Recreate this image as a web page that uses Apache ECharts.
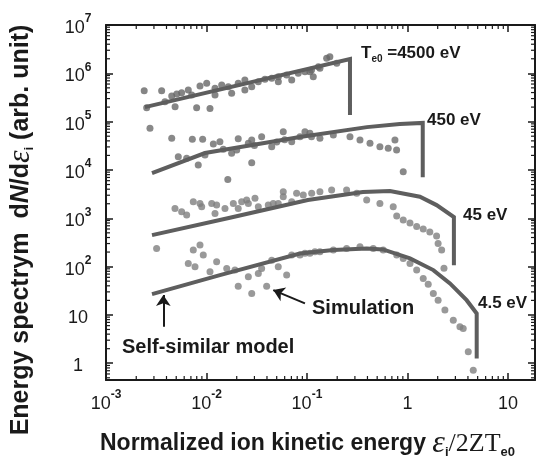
<!DOCTYPE html>
<html><head><meta charset="utf-8">
<script src="https://cdn.jsdelivr.net/npm/echarts@6/dist/echarts.min.js"></script>
<style>html,body{margin:0;padding:0;background:#fff}#c{width:539px;height:463px}</style>
</head><body><div id="c"></div>
<script>
const FONT = '"Liberation Sans", Arial, Helvetica, sans-serif';
const SERIF = '"Liberation Serif", "Times New Roman", serif';

// axis ranges
const xMin = 0.001, xMax = 18.6, yMin = 0.45, yMax = 1e7;

// simulation points [E/2ZTe0, dN/dE]
const sim4500 = [[0.0024,4.37e5],[0.00358,4.37e5],[0.00254,1.94e5],[0.00386,2.58e5],[0.00451,3.39e5],[0.00487,2.04e5],[0.00506,3.72e5],[0.00566,3.96e5],[0.00659,4.51e5],[0.00713,3.56e5],[0.00798,1.94e5],[0.00862,5.46e5],[0.01005,6.21e5],[0.01084,1.88e5],[0.01216,4.89e5],[0.01216,3.56e5],[0.01417,5.73e5],[0.0165,5.29e5],[0.0178,3.85e5],[0.0207,6.21e5],[0.0241,7.26e5],[0.0241,4.51e5],[0.0282,5.29e5],[0.0328,6.7e5],[0.0382,7.51e5],[0.0446,7.88e5],[0.0519,8.51e5],[0.0519,6.7e5],[0.0628,9.22e5],[0.0705,7.26e5],[0.0819,1.0e6],[0.0955,1.08e6],[0.107,1.08e6],[0.111,1.17e6],[0.1156,8.51e5],[0.13,1.37e6],[0.1346,1.27e6],[0.157,2.04e6],[0.169,2.21e6],[0.198,1.61e6]];
const sim450 = [[0.00274,7.26e4],[0.00451,4.51e4],[0.00524,1.87e4],[0.00635,1.74e4],[0.00723,4.3e4],[0.00828,1.26e4],[0.00916,4.3e4],[0.00966,2.03e4],[0.0117,3.44e4],[0.0136,3.84e4],[0.0147,2.67e4],[0.0163,6.38e3],[0.0178,2.21e4],[0.02,2.6e4],[0.0207,4.43e4],[0.0261,3.56e4],[0.0282,4.16e4],[0.0282,1.41e4],[0.03,3.2e4],[0.0354,4.88e4],[0.0446,3.03e4],[0.05,3.8e4],[0.0581,6.18e4],[0.06,4.2e4],[0.0705,3.84e4],[0.0852,4.88e4],[0.0955,6.18e4],[0.107,5.73e4],[0.111,4.88e4],[0.1346,4.51e4],[0.183,5.29e4],[0.268,4.88e4],[0.337,4.16e4],[0.424,3.56e4],[0.532,3.03e4],[0.644,2.8e4],[0.751,4.16e4],[0.78,2.58e4],[0.908,9.2e3]];
const sim45 = [[0.00486,1603],[0.00566,1365],[0.00635,1164],[0.00739,2198],[0.00862,2033],[0.00896,1730],[0.01127,2033],[0.01216,1262],[0.01262,1875],[0.01528,1603],[0.0185,2033],[0.0207,1603],[0.0224,2198],[0.0251,2382],[0.0261,2033],[0.0304,2583],[0.0328,1730],[0.0412,1875],[0.0462,2033],[0.0518,2033],[0.0581,3540],[0.0581,2787],[0.0705,2198],[0.0789,3282],[0.0919,3023],[0.1114,3282],[0.1346,3540],[0.176,3837],[0.248,3837],[0.313,3282],[0.393,2382],[0.532,2033],[0.722,1730],[0.782,1112],[0.908,919],[1.06,796],[1.236,673],[1.436,597],[1.67,518],[1.95,428],[2.02,302],[2.19,220],[2.31,93]];
const sim4_5 = [[0.00319,238],[0.00659,116],[0.00739,220],[0.00769,99],[0.00862,279],[0.00929,173],[0.01084,78],[0.01262,126],[0.0159,91.8],[0.0192,84.7],[0.0207,39.4],[0.0261,61.5],[0.0282,27.9],[0.0328,72.3],[0.0354,91.8],[0.0397,39.4],[0.0446,136],[0.0518,99],[0.0628,66.7],[0.0705,173],[0.0852,173],[0.0955,188],[0.107,188],[0.12,202],[0.1346,202],[0.183,220],[0.248,238],[0.337,257],[0.457,238],[0.574,220],[0.782,173],[0.908,148],[1.06,116],[1.236,84.7],[1.436,57],[1.61,43.1],[1.81,27.9],[2.02,20.2],[2.36,12.6],[2.86,7.8],[3.33,5.67],[3.59,5.25],[4.03,1.72],[4.52,0.72]];

// self-similar model curves (with final cut-off drop)
const model4500 = [[0.00244,2.0e5],[0.268,1.98e6],[0.268,1.37e5]];
const model450 = [[0.00287,8.6e3],[0.00966,2.24e4],[0.0851,4.8e4],[0.395,7.7e4],[0.84,8.9e4],[1.42,9.4e4],[1.42,7.1e3]];
const model45 = [[0.00287,449],[0.0171,1028],[0.102,2380],[0.36,3480],[0.67,3650],[1.33,2790],[1.95,1875],[2.9,1060],[2.9,107]];
const model4_5 = [[0.00287,27],[0.0136,66.7],[0.0851,187],[0.183,220],[0.393,238],[0.57,227],[1.06,148],[1.81,84.7],[2.65,44.9],[3.88,20.2],[4.89,10.7],[4.89,1.26]];

// annotation arrows [from, to]
const arrowSelfSimilar = [[0.00372,5.67],[0.00372,25.7]];
const arrowSimulation = [[0.0955,17.3],[0.0462,32.6]];

// minor tick positions (2..9 x 10^n)
const minorMantissas = [2,3,4,5,6,7,8,9];
const xDecades = [-3,-2,-1,0,1];
const yDecades = [-1,0,1,2,3,4,5,6];
const xMinorTicks = [], yMinorTicks = [];
xDecades.forEach(e => minorMantissas.forEach(m => { const v = m * Math.pow(10, e); if (v > xMin && v < xMax) xMinorTicks.push(v); }));
yDecades.forEach(e => minorMantissas.forEach(m => { const v = m * Math.pow(10, e); if (v > yMin && v < yMax) yMinorTicks.push(v); }));

function powLabel(v) {
  const l = Math.log10(v), e = Math.round(l);
  if (Math.abs(l - e) > 1e-6) return '';
  if (e === 0) return '{b|1}';
  if (e === 1) return '{b|10}';
  return '{b|10}{s|' + e + '}';
}
const tickRich = {
  b: { fontSize: 18, fontFamily: FONT, color: '#1a1a1a', lineHeight: 24, verticalAlign: 'bottom' },
  s: { fontSize: 12, fontFamily: FONT, color: '#1a1a1a', fontWeight: 'bold', lineHeight: 13, verticalAlign: 'top' }
};
const axisLine = { show: true, lineStyle: { color: '#1a1a1a', width: 2 } };
const majorTick = { show: true, inside: true, length: 7, lineStyle: { color: '#1a1a1a', width: 1.5 } };

const scatterBase = { type: 'scatter', symbol: 'circle', symbolSize: 7, silent: true };
const lineBase = { type: 'line', showSymbol: false, symbol: 'none', silent: true, lineStyle: { color: '#5e5e5e', width: 4, cap: 'butt', join: 'miter' } };

const chart = echarts.init(document.getElementById('c'), null, { renderer: 'canvas' });
chart.setOption({
  animation: false,
  backgroundColor: '#ffffff',
  grid: { left: 106, right: 4, top: 25, bottom: 83, containLabel: false },
  xAxis: [
    { type: 'log', logBase: 10, min: xMin, max: xMax, position: 'bottom', axisLine, axisTick: majorTick,
      splitLine: { show: false },
      axisLabel: { margin: 9, formatter: powLabel, rich: tickRich, showMinLabel: true, showMaxLabel: false } },
    { type: 'log', logBase: 10, min: xMin, max: xMax, position: 'top', axisLine, axisTick: majorTick,
      splitLine: { show: false }, axisLabel: { show: false } }
  ],
  yAxis: [
    { type: 'log', logBase: 10, min: yMin, max: yMax, position: 'left', axisLine, axisTick: majorTick,
      splitLine: { show: false },
      axisLabel: { margin: 28, align: 'center', formatter: powLabel, rich: tickRich, showMinLabel: false, showMaxLabel: true } },
    { type: 'log', logBase: 10, min: yMin, max: yMax, position: 'right', axisLine, axisTick: majorTick,
      splitLine: { show: false }, axisLabel: { show: false } }
  ],
  series: [
    Object.assign({}, scatterBase, { data: sim4500, itemStyle: { color: '#676767' } }),
    Object.assign({}, scatterBase, { data: sim450, itemStyle: { color: '#6c6c6c' } }),
    Object.assign({}, scatterBase, { data: sim45, itemStyle: { color: '#7e7e7e' } }),
    Object.assign({}, scatterBase, { data: sim4_5, itemStyle: { color: '#808080' },
      markLine: { silent: true, symbol: ['none', 'arrow'], symbolSize: 11, animation: false,
        label: { show: false }, lineStyle: { color: '#1a1a1a', width: 2, type: 'solid' },
        data: [
          [{ coord: arrowSelfSimilar[0] }, { coord: arrowSelfSimilar[1] }],
          [{ coord: arrowSimulation[0] }, { coord: arrowSimulation[1] }]
        ] } }),
    Object.assign({}, lineBase, { data: model4500 }),
    Object.assign({}, lineBase, { data: model450 }),
    Object.assign({}, lineBase, { data: model45 }),
    Object.assign({}, lineBase, { data: model4_5 }),
    {
      type: 'custom', silent: true, clip: false, z: 5,
      data: xMinorTicks.map(v => [v, yMin, 0]).concat(yMinorTicks.map(v => [xMin, v, 1])),
      encode: { x: 0, y: 1 },
      renderItem: function (params, api) {
        const cs = params.coordSys;
        const p = api.coord([api.value(0), api.value(1)]);
        const L = 4, st = { stroke: '#1a1a1a', lineWidth: 1.2 };
        if (api.value(2) === 0) {
          return { type: 'group', children: [
            { type: 'line', shape: { x1: p[0], y1: cs.y + cs.height, x2: p[0], y2: cs.y + cs.height - L }, style: st },
            { type: 'line', shape: { x1: p[0], y1: cs.y, x2: p[0], y2: cs.y + L }, style: st }
          ] };
        }
        return { type: 'group', children: [
          { type: 'line', shape: { x1: cs.x, y1: p[1], x2: cs.x + L, y2: p[1] }, style: st },
          { type: 'line', shape: { x1: cs.x + cs.width, y1: p[1], x2: cs.x + cs.width - L, y2: p[1] }, style: st }
        ] };
      }
    }
  ],
  graphic: [
    { type: 'text', x: 361, y: 53, z: 10, style: {
        text: '{b|T}{s|e0}{b| =4500 eV}', align: 'left', verticalAlign: 'middle',
        rich: { b: { fontSize: 17, fontWeight: 'bold', fontFamily: FONT, fill: '#1a1a1a', lineHeight: 22 },
                s: { fontSize: 10, fontWeight: 'bold', fontFamily: FONT, fill: '#1a1a1a', lineHeight: 12, verticalAlign: 'bottom' } } } },
    { type: 'text', x: 427, y: 120, z: 10, style: { text: '450 eV', fontSize: 17, fontWeight: 'bold', fontFamily: FONT, fill: '#1a1a1a', align: 'left', verticalAlign: 'middle' } },
    { type: 'text', x: 463, y: 215, z: 10, style: { text: '45 eV', fontSize: 17, fontWeight: 'bold', fontFamily: FONT, fill: '#1a1a1a', align: 'left', verticalAlign: 'middle' } },
    { type: 'text', x: 478, y: 303, z: 10, style: { text: '4.5 eV', fontSize: 17, fontWeight: 'bold', fontFamily: FONT, fill: '#1a1a1a', align: 'left', verticalAlign: 'middle' } },
    { type: 'text', x: 312, y: 308, z: 10, style: { text: 'Simulation', fontSize: 20, fontWeight: 'bold', fontFamily: FONT, fill: '#1a1a1a', align: 'left', verticalAlign: 'middle' } },
    { type: 'text', x: 122, y: 347, z: 10, style: { text: 'Self-similar model', fontSize: 20, fontWeight: 'bold', fontFamily: FONT, fill: '#1a1a1a', align: 'left', verticalAlign: 'middle' } },
    { type: 'text', x: 100, y: 444, z: 10, style: {
        text: '{t|Normalized ion kinetic energy }{e|ε}{i|i}{sl|/}{z|2ZT}{i|e0}', align: 'left', verticalAlign: 'middle',
        rich: {
          t: { fontSize: 23, fontWeight: 'bold', fontFamily: FONT, fill: '#1a1a1a', lineHeight: 30 },
          e: { fontSize: 32, fontStyle: 'italic', fontFamily: SERIF, fill: '#1a1a1a', lineHeight: 30 },
          i: { fontSize: 13, fontWeight: 'bold', fontFamily: FONT, fill: '#1a1a1a', lineHeight: 14, verticalAlign: 'bottom' },
          sl: { fontSize: 26, fontFamily: SERIF, fill: '#1a1a1a', lineHeight: 30 },
          z: { fontSize: 26, fontFamily: SERIF, fill: '#1a1a1a', lineHeight: 30 }
        } } },
    { type: 'text', x: 21, y: 230, rotation: Math.PI / 2, z: 10, style: {
        text: '{t|Energy spectrym  d}{n|N}{t|/d}{e|ε}{i|i}{t| (arb. unit)}', align: 'center', verticalAlign: 'middle',
        rich: {
          t: { fontSize: 25, fontWeight: 'bold', fontFamily: FONT, fill: '#1a1a1a', lineHeight: 30 },
          n: { fontSize: 25, fontWeight: 'bold', fontStyle: 'italic', fontFamily: FONT, fill: '#1a1a1a', lineHeight: 30 },
          e: { fontSize: 32, fontStyle: 'italic', fontFamily: SERIF, fill: '#1a1a1a', lineHeight: 30 },
          i: { fontSize: 13, fontWeight: 'bold', fontFamily: FONT, fill: '#1a1a1a', lineHeight: 14, verticalAlign: 'bottom' }
        } } }
  ]
});
</script></body></html>
